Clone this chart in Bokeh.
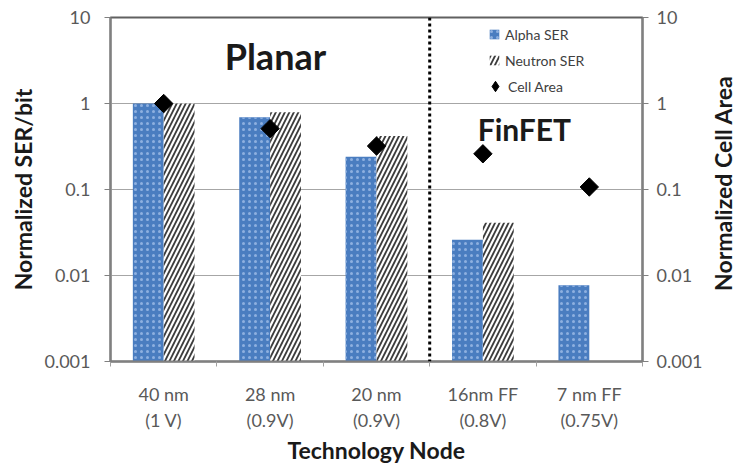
import math
from bokeh.plotting import figure
from bokeh.layouts import row
from bokeh.models import (ColumnDataSource, Range1d, LogAxis, FixedTicker, CustomJSTickFormatter,
                          Legend, LegendItem, Span, Label)
from bokeh.embed import file_html
from bokeh.resources import INLINE

# ---- data ----
nodes = ["40 nm\n(1 V)", "28 nm\n(0.9V)", "20 nm\n(0.9V)", "16nm FF\n(0.8V)", "7 nm FF\n(0.75V)"]
alpha_ser = [1.0, 0.69, 0.24, 0.026, 0.0077]
neutron_ser = [1.0, 0.79, 0.42, 0.041, None]
cell_area = [1.0, 0.51, 0.32, 0.26, 0.107]
y_ticks = [0.001, 0.01, 0.1, 1, 10]
planar_finfet_boundary = 3  # index of the first FinFET node

FONT = "Lato"
BAR_W = 0.29
centers = [i + 0.5 for i in range(len(nodes))]

alpha_src = ColumnDataSource(dict(
    left=[c - BAR_W for c in centers], right=centers,
    top=alpha_ser, bottom=[y_ticks[0]] * len(nodes)))
n_idx = [i for i, v in enumerate(neutron_ser) if v is not None]
neutron_src = ColumnDataSource(dict(
    left=[centers[i] for i in n_idx], right=[centers[i] + BAR_W for i in n_idx],
    top=[neutron_ser[i] for i in n_idx], bottom=[y_ticks[0]] * len(n_idx)))
cell_src = ColumnDataSource(dict(x=centers, y=cell_area))

FW, FH = 532, 344
BT, BB, BL, BR = 17, 108, 110, 66
p = figure(frame_width=FW, frame_height=FH, y_axis_type="log",
           x_range=Range1d(0, len(nodes)), y_range=Range1d(y_ticks[0], y_ticks[-1]),
           output_backend="svg", toolbar_location=None,
           min_border_left=BL, min_border_right=BR, min_border_top=BT, min_border_bottom=BB)
p.extra_y_ranges = {"right": Range1d(y_ticks[0], y_ticks[-1])}

p.outline_line_color = "#606060"
p.outline_line_width = 2
p.background_fill_color = "white"
p.border_fill_color = "white"
p.xgrid.grid_line_color = None
p.ygrid.grid_line_color = "#a6a6a6"
p.ygrid.grid_line_width = 1.2

fmt = CustomJSTickFormatter(code="return tick.toString();")

yl = p.yaxis[0]
yl.ticker = FixedTicker(ticks=y_ticks, minor_ticks=[])
yl.formatter = fmt
yl.axis_label = "Normalized SER/bit"

yr = LogAxis(y_range_name="right", ticker=FixedTicker(ticks=y_ticks, minor_ticks=[]),
             formatter=fmt)
p.add_layout(yr, "right")

for ax in (yl, yr):
    ax.axis_line_color = "#808080"
    ax.axis_line_width = 2
    ax.major_tick_line_color = "#808080"
    ax.major_tick_out = 6
    ax.major_tick_in = 0
    ax.minor_tick_line_color = None
    ax.major_label_text_font = FONT
    ax.major_label_text_font_size = "18px"
    ax.major_label_text_color = "#595959"
    ax.axis_label_text_font = FONT
    ax.axis_label_text_font_style = "bold"
    ax.axis_label_text_font_size = "23px"
    ax.axis_label_text_color = "#1a1a1a"
yl.major_label_standoff = 14
yl.axis_label_standoff = 4
yr.major_label_standoff = 8

xa = p.xaxis[0]
xa.ticker = FixedTicker(ticks=centers, minor_ticks=list(range(len(nodes) + 1)))
xa.major_label_overrides = {c: n for c, n in zip(centers, nodes)}
xa.axis_line_color = "#808080"
xa.axis_line_width = 2
xa.major_tick_line_color = None
xa.major_tick_out = 0
xa.major_tick_in = 0
xa.minor_tick_line_color = "#a0a0a0"
xa.minor_tick_out = 5
xa.minor_tick_in = 0
xa.major_label_text_font = FONT
xa.major_label_text_font_size = "18px"
xa.major_label_text_color = "#595959"
xa.major_label_standoff = 16
xa.axis_label = "Technology Node"
xa.axis_label_text_font = FONT
xa.axis_label_text_font_style = "bold"
xa.axis_label_text_font_size = "23px"
xa.axis_label_text_color = "#1a1a1a"
xa.axis_label_standoff = 2

r_alpha = p.quad(left="left", right="right", top="top", bottom="bottom", source=alpha_src,
                 fill_color="#4a7dc0", line_color=None,
                 hatch_pattern="dot", hatch_color="#8eb0e0", hatch_scale=6, hatch_weight=1)
r_neutron = p.quad(left="left", right="right", top="top", bottom="bottom", source=neutron_src,
                   fill_color="white", line_color=None,
                   hatch_pattern="right_diagonal_line", hatch_color="#3c3c3c",
                   hatch_scale=9, hatch_weight=1.8)
# legend key for the cell-area markers (a small diamond hidden under each plotted marker)
r_cell_key = p.scatter(x="x", y="y", source=cell_src, marker="diamond", size=10,
                       fill_color="black", line_color="black", y_range_name="right")
r_cell = p.scatter(x="x", y="y", source=cell_src, marker="square", angle=math.pi / 4, size=13,
                   fill_color="black", line_color="black", y_range_name="right")

p.add_layout(Span(location=planar_finfet_boundary, dimension="height", line_color="black",
                  line_width=3, line_dash="3 3"))

p.add_layout(Label(x=1.55, y=3.6, text="Planar", text_font=FONT, text_font_style="bold",
                   text_font_size="36px", text_color="#1a1a1a",
                   text_align="center", text_baseline="middle"))
p.add_layout(Label(x=3.89, y=0.5, text="FinFET", text_font=FONT, text_font_style="bold",
                   text_font_size="30px", text_color="#1a1a1a",
                   text_align="center", text_baseline="middle"))

common = dict(orientation="vertical", label_text_font=FONT, label_text_font_size="14px",
              label_text_color="#404040", label_height=20, spacing=6, padding=5, margin=0,
              border_line_color=None, background_fill_alpha=0)
legend_a = Legend(items=[LegendItem(label="Alpha SER", renderers=[r_alpha]),
                         LegendItem(label="Neutron SER", renderers=[r_neutron])],
                  location=(378, 291), glyph_width=12, glyph_height=12, label_standoff=5, **common)
legend_b = Legend(items=[LegendItem(label="Cell Area", renderers=[r_cell_key])],
                  location=(372, 262), glyph_width=26, glyph_height=26, label_standoff=0, **common)
p.add_layout(legend_a)
p.add_layout(legend_b)

# narrow strip on the right carrying the right-hand axis title (reads bottom-to-top)
TOTAL_H = BT + FH + BB
strip_w = 737 - (BL + FW + BR)
q = figure(width=strip_w, height=TOTAL_H, x_range=Range1d(0, 1), y_range=Range1d(0, TOTAL_H),
           output_backend="svg", toolbar_location=None, x_axis_location=None, y_axis_location=None,
           min_border=0)
q.outline_line_color = None
q.xgrid.grid_line_color = None
q.ygrid.grid_line_color = None
q.border_fill_color = "white"
q.add_layout(Label(x=0.5, y=TOTAL_H - BT - FH / 2 - 37, text="Normalized Cell Area", angle=math.pi / 2,
                   text_font=FONT, text_font_style="bold", text_font_size="23px",
                   text_color="#1a1a1a", text_align="center", text_baseline="middle"))

layout = row(p, q, spacing=0)
open("out.html", "w").write(file_html(layout, INLINE))
